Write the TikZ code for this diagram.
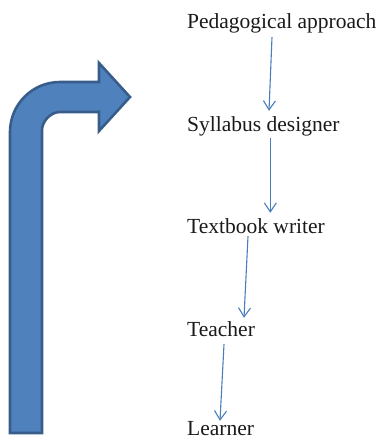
\documentclass[tikz,border=0pt]{standalone}
\usepackage{fontspec}
\setmainfont{Liberation Serif}
\usetikzlibrary{arrows.meta}
\definecolor{bentfill}{HTML}{4F81BD}
\definecolor{bentedge}{HTML}{385D8A}
\definecolor{flowline}{HTML}{4A7EBB}
\definecolor{labeltext}{HTML}{1A1A1A}
\begin{document}
\begin{tikzpicture}[x=1pt,y=-1pt,
  stage/.style={anchor=base west,inner sep=0pt,text height=15pt,text depth=5pt,
    font=\fontsize{21.5}{24}\selectfont,text=labeltext},
  flow/.style={draw=flowline,line width=1.1pt,-{Straight Barb[length=9pt,width=12pt,line width=1.1pt]}},
  bent/.style={fill=bentfill,draw=bentedge,line width=2.6pt,line join=miter}]
\useasboundingbox (0,0) rectangle (383,440);

% bent-up arrow on the left
\draw[bent] (10,433) -- (10,132)
  .. controls (10,104.4) and (32.4,82) .. (60,82)
  -- (99,82) -- (99,63) -- (130,97) -- (99,131) -- (99,112) -- (60,112)
  .. controls (50.1,112) and (42,121.9) .. (42,130)
  -- (42,433) -- cycle;

% chain of stages
\node[stage] (ped) at (187,28)  {Pedagogical approach};
\node[stage] (syl) at (187,131) {Syllabus designer};
\node[stage] (tbw) at (187,233) {Textbook writer};
\node[stage] (tea) at (187,336) {Teacher};
\node[stage,text depth=0pt] (lea) at (187,435) {Learner};

\draw[flow] ([shift={(85,4)}]ped.south west) -- ([shift={(82,-5)}]syl.north west);
\draw[flow] ([shift={(83.3,2)}]syl.south west) -- ([shift={(83.3,-5)}]tbw.north west);
\draw[flow] ([shift={(61,-2)}]tbw.south west) -- ([shift={(57,-3)}]tea.north west);
\draw[flow] ([shift={(37,3)}]tea.south west) -- ([shift={(33,1)}]lea.north west);
\end{tikzpicture}
\end{document}
